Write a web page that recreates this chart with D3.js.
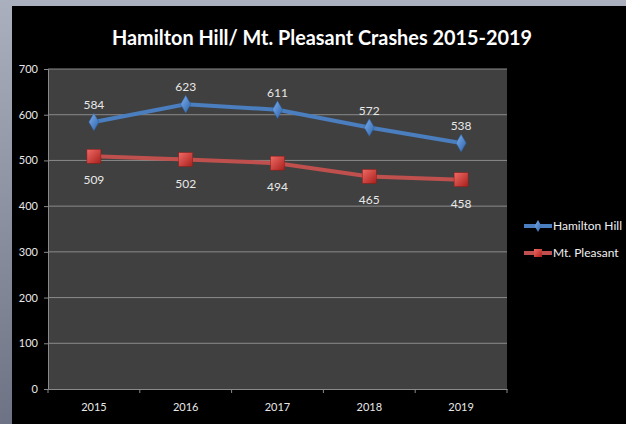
<!DOCTYPE html>
<html><head><meta charset="utf-8">
<script src="https://cdn.jsdelivr.net/npm/d3@7"></script>
<style>html,body{margin:0;padding:0;background:#000;}svg{display:block;}</style>
</head><body>
<svg id="c" width="626" height="424"></svg>
<script>
const years = ["2015","2016","2017","2018","2019"];
const hamiltonHill = [584, 623, 611, 572, 538];
const mtPleasant = [509, 502, 494, 465, 458];
const yTicks = [0,100,200,300,400,500,600,700];
const seriesNames = ["Hamilton Hill","Mt. Pleasant"];

const svg = d3.select("#c");
const font = "Lato,'Open Sans',sans-serif";
const defs = svg.append("defs");
const bg = defs.append("linearGradient").attr("id","bg").attr("x1","0").attr("x2","0").attr("y1","0").attr("y2","1");
bg.append("stop").attr("offset","0").attr("stop-color","#aab0bd");
bg.append("stop").attr("offset","1").attr("stop-color","#6d7384");
svg.append("rect").attr("width",626).attr("height",424).attr("fill","url(#bg)");
svg.append("rect").attr("x",12).attr("y",6).attr("width",614).attr("height",418).attr("fill","#000");

const rg = defs.append("linearGradient").attr("id","rg").attr("x1","0").attr("x2","1").attr("y1","0").attr("y2","1");
rg.append("stop").attr("offset","0").attr("stop-color","#f06a66");
rg.append("stop").attr("offset","1").attr("stop-color","#a8201c");
const bgr = defs.append("linearGradient").attr("id","bgr").attr("x1","0").attr("x2","1").attr("y1","0").attr("y2","1");
bgr.append("stop").attr("offset","0").attr("stop-color","#7fb0ee");
bgr.append("stop").attr("offset","1").attr("stop-color","#2c62a8");

const L = 48, R = 507, T = 69, B = 389;
const x = d3.scaleBand().domain(years).range([L,R]);
const y = d3.scaleLinear().domain([0,700]).range([B,T]);

svg.append("rect").attr("x",L).attr("y",T).attr("width",R-L).attr("height",B-T).attr("fill","#404040");

svg.append("g").selectAll("line").data(yTicks.filter(d=>d>0)).join("line")
  .attr("x1",L).attr("x2",R).attr("y1",d=>y(d)).attr("y2",d=>y(d))
  .attr("stroke","#8a8a8a").attr("stroke-width",1);

const ya = svg.append("g").attr("transform",`translate(${L},0)`)
  .call(d3.axisLeft(y).tickValues(yTicks).tickSize(4).tickPadding(6));
ya.select(".domain").attr("stroke","#8a8a8a");
ya.selectAll(".tick line").attr("stroke","#8a8a8a");
ya.selectAll("text").attr("fill","#e8e8e8").style("font-family",font).style("font-size","11px");

const xa = svg.append("g").attr("transform",`translate(0,${B})`)
  .call(d3.axisBottom(x).tickSize(0).tickPadding(14));
xa.select(".domain").attr("stroke","#8a8a8a");
xa.selectAll("text").attr("fill","#e8e8e8").style("font-family",font).style("font-size","11px");
svg.append("g").selectAll("line").data(years.concat(["end"])).join("line")
  .attr("x1",(d,i)=>L+i*x.bandwidth()).attr("x2",(d,i)=>L+i*x.bandwidth())
  .attr("y1",B).attr("y2",B+4).attr("stroke","#8a8a8a");

svg.append("text").attr("x",322).attr("y",45).attr("text-anchor","middle")
  .attr("textLength",420).attr("lengthAdjust","spacingAndGlyphs")
  .attr("fill","#fff").style("font-family",font).style("font-weight","bold").style("font-size","21px")
  .text("Hamilton Hill/ Mt. Pleasant Crashes 2015-2019");

const cx = d => x(d) + x.bandwidth()/2;
const line = d3.line().x(d=>cx(d[0])).y(d=>y(d[1]));

const hh = years.map((d,i)=>[d,hamiltonHill[i]]);
const mp = years.map((d,i)=>[d,mtPleasant[i]]);

svg.append("path").datum(hh).attr("d",line).attr("fill","none").attr("stroke","#4a7ebf").attr("stroke-width",4);
svg.append("path").datum(mp).attr("d",line).attr("fill","none").attr("stroke","#c0504d").attr("stroke-width",4);

const diamond = d3.symbol().type(d3.symbolDiamond).size(90);
svg.append("g").selectAll("path").data(hh).join("path")
  .attr("d",diamond).attr("transform",d=>`translate(${cx(d[0])},${y(d[1])})`)
  .attr("fill","url(#bgr)").attr("stroke","#2a5c9c").attr("stroke-width",0.5);
svg.append("g").selectAll("rect").data(mp).join("rect")
  .attr("x",d=>cx(d[0])-7).attr("y",d=>y(d[1])-7).attr("width",14).attr("height",14)
  .attr("fill","url(#rg)").attr("stroke","#8c1a17").attr("stroke-width",0.5);

svg.append("g").selectAll("text").data(hh).join("text")
  .attr("x",d=>cx(d[0])).attr("y",d=>y(d[1])-13).attr("text-anchor","middle")
  .attr("fill","#e8e8e8").style("font-family",font).style("font-size","12px").text(d=>d[1]);
svg.append("g").selectAll("text").data(mp).join("text")
  .attr("x",d=>cx(d[0])).attr("y",d=>y(d[1])+28).attr("text-anchor","middle")
  .attr("fill","#e8e8e8").style("font-family",font).style("font-size","12px").text(d=>d[1]);

// legend
const lg = svg.append("g");
const ly = [226, 253];
lg.append("line").attr("x1",524).attr("x2",552).attr("y1",ly[0]).attr("y2",ly[0]).attr("stroke","#4a7ebf").attr("stroke-width",4);
lg.append("path").attr("d",d3.symbol().type(d3.symbolDiamond).size(40)).attr("transform",`translate(538,${ly[0]})`).attr("fill","url(#bgr)");
lg.append("line").attr("x1",524).attr("x2",552).attr("y1",ly[1]).attr("y2",ly[1]).attr("stroke","#c0504d").attr("stroke-width",4);
lg.append("rect").attr("x",534).attr("y",ly[1]-4).attr("width",8).attr("height",8).attr("fill","url(#rg)");
lg.selectAll("text").data(seriesNames).join("text")
  .attr("x",553).attr("y",(d,i)=>ly[i]+4).attr("fill","#f0f0f0")
  .style("font-family",font).style("font-size","12px").text(d=>d);
</script>
</body></html>
